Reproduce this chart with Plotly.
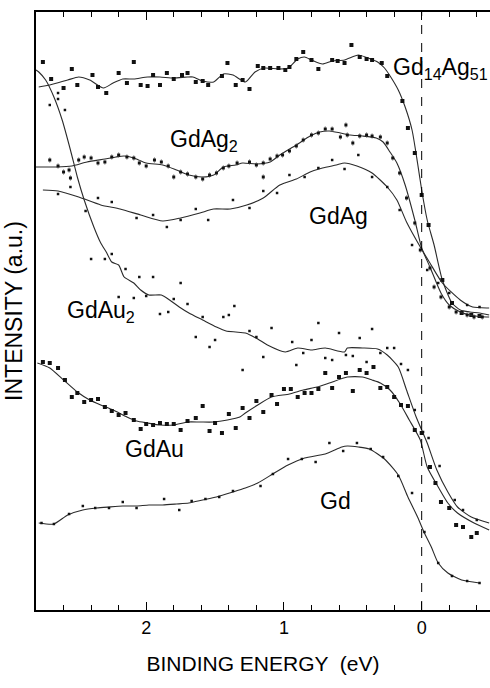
import plotly.graph_objects as go

# ---------------- data (binding energy in eV, intensity in a.u.) ----------------
gd14ag51_fit_x = [2.78, 2.70, 2.57, 2.49, 2.41, 2.31, 2.24, 2.17, 2.09, 1.99, 1.90, 1.80, 1.70, 1.66, 1.59, 1.51,
                  1.44, 1.37, 1.28, 1.21, 1.14, 1.04, 0.97, 0.90, 0.85, 0.80, 0.72, 0.65, 0.56, 0.46, 0.39, 0.32,
                  0.27, 0.22, 0.17, 0.12, 0.07, 0.03, 0.00, -0.04, -0.09, -0.15, -0.22, -0.28, -0.35, -0.42, -0.49]
gd14ag51_fit_y = [523, 525, 530, 533, 530, 522, 527, 531, 531, 533, 533, 532, 533, 533, 529, 528,
                  536, 535, 528, 538, 542, 541, 542, 551, 553, 550, 546, 549, 550, 555, 552, 548,
                  542, 532, 520, 503, 480, 447, 420, 390, 365, 330, 307, 300, 298, 297, 295]
gd14ag51_pts_x = [2.75, 2.69, 2.60, 2.54, 2.50, 2.39, 2.35, 2.29, 2.20, 2.14, 2.09, 2.04, 1.99, 1.95, 1.90, 1.85,
                  1.80, 1.74, 1.70, 1.64, 1.59, 1.55, 1.45, 1.41, 1.35, 1.30, 1.25, 1.19, 1.15, 1.10, 1.04, 0.99,
                  0.96, 0.91, 0.86, 0.80, 0.75, 0.65, 0.61, 0.56, 0.51, 0.45, 0.40, 0.36, 0.29, 0.25, 0.14, 0.10,
                  0.05, 0.00, -0.05, -0.15, -0.22, -0.29, -0.36, -0.42]
gd14ag51_pts_y = [548, 531, 522, 541, 525, 535, 523, 517, 537, 527, 548, 525, 524, 535, 525, 537,
                  531, 535, 537, 528, 529, 525, 534, 547, 525, 530, 521, 544, 542, 542, 542, 540,
                  543, 551, 558, 550, 541, 550, 549, 547, 565, 553, 551, 550, 547, 534, 509, 482,
                  457, 415, 385, 330, 307, 297, 295, 294]

gdag2_fit_x = [2.80, 2.65, 2.54, 2.43, 2.30, 2.22, 2.16, 2.09, 2.00, 1.88, 1.78, 1.69, 1.59, 1.51, 1.44, 1.35,
               1.30, 1.20, 1.10, 1.03, 0.91, 0.81, 0.74, 0.67, 0.59, 0.52, 0.43, 0.33, 0.28, 0.23, 0.18, 0.12,
               0.05, 0.00, -0.06, -0.14, -0.20, -0.28, -0.35, -0.47, -0.49]
gdag2_fit_y = [443, 443, 444, 448, 451, 453, 454, 452, 447, 445, 440, 435, 433, 435, 443, 445,
               447, 446, 448, 455, 465, 474, 478, 479, 477, 475, 474, 472, 468, 458, 447, 425,
               390, 362, 343, 317, 305, 298, 295, 293, 293]
gdag2_pts_x = [2.70, 2.64, 2.60, 2.56, 2.55, 2.49, 2.45, 2.40, 2.35, 2.30, 2.25, 2.20, 2.14, 2.09, 2.05, 2.00,
               1.94, 1.89, 1.84, 1.80, 1.75, 1.70, 1.64, 1.59, 1.54, 1.49, 1.44, 1.40, 1.34, 1.25, 1.20, 1.15,
               1.15, 1.10, 1.05, 1.01, 0.96, 0.91, 0.86, 0.80, 0.75, 0.70, 0.65, 0.59, 0.55, 0.54, 0.50, 0.45,
               0.40, 0.36, 0.30, 0.25, 0.21, 0.16, 0.11, 0.05, 0.01, -0.06, -0.09, -0.14, -0.20, -0.25, -0.33,
               -0.38, -0.44]
gdag2_pts_y = [450, 444, 438, 440, 432, 450, 453, 452, 447, 448, 453, 455, 453, 452, 447, 444,
               450, 448, 444, 433, 438, 436, 433, 431, 435, 437, 442, 444, 447, 448, 445, 447,
               433, 451, 454, 455, 459, 464, 470, 475, 477, 481, 481, 473, 485, 475, 467, 474,
               475, 474, 473, 467, 452, 437, 412, 387, 360, 342, 323, 313, 303, 298, 295,
               293, 293]

gdag_fit_x = [2.75, 2.64, 2.49, 2.33, 2.19, 2.04, 1.88, 1.75, 1.61, 1.51, 1.39, 1.27, 1.15, 1.03, 0.91, 0.81,
              0.72, 0.62, 0.56, 0.47, 0.36, 0.25, 0.18, 0.11, 0.01, -0.06, -0.15, -0.28, -0.37, -0.48, -0.49]
gdag_fit_y = [420, 419, 413, 405, 401, 395, 389, 392, 397, 401, 401, 405, 412, 425, 431, 438,
              442, 445, 447, 444, 437, 423, 410, 388, 363, 347, 327, 310, 303, 302, 302]
gdag_pts_x = [2.64, 2.55, 2.44, 2.35, 2.25, 2.07, 1.95, 1.85, 1.75, 1.64, 1.55, 1.37, 1.25, 1.15, 1.05, 0.96,
              0.85, 0.75, 0.65, 0.56, 0.46, 0.36, 0.25, 0.16, 0.07, -0.04, -0.12, -0.20, -0.33, -0.42]
gdag_pts_y = [416, 423, 399, 412, 408, 392, 395, 383, 390, 401, 390, 410, 402, 419, 417, 435,
              433, 442, 450, 441, 455, 433, 423, 400, 365, 340, 327, 317, 305, 303]

gdau2_fit_x = [2.80, 2.78, 2.73, 2.67, 2.61, 2.55, 2.50, 2.45, 2.38, 2.33, 2.29, 2.25, 2.20, 2.16, 2.09, 2.04,
               1.98, 1.89, 1.83, 1.76, 1.69, 1.59, 1.49, 1.42, 1.35, 1.28, 1.19, 1.12, 0.99, 0.90, 0.80, 0.70,
               0.56, 0.54, 0.43, 0.32, 0.25, 0.17, 0.11, 0.04, -0.04, -0.11, -0.19, -0.26, -0.36, -0.49]
gdau2_fit_y = [540, 538, 530, 513, 490, 460, 433, 410, 383, 367, 358, 348, 345, 333, 327, 320,
               315, 315, 310, 303, 297, 290, 283, 279, 278, 277, 271, 265, 258, 262, 260, 262,
               258, 262, 262, 261, 255, 243, 220, 193, 167, 140, 118, 103, 93, 87]
gdau2_pts_x = [2.70, 2.64, 2.64, 2.59, 2.40, 2.30, 2.25, 2.15, 2.05, 1.95, 2.20, 2.09, 2.00, 1.90, 1.84, 1.80,
               1.75, 1.70, 1.64, 1.59, 1.54, 1.50, 1.44, 1.40, 1.36, 1.30, 1.25, 1.20, 1.15, 1.09, 0.94, 0.91,
               0.86, 0.80, 0.75, 0.70, 0.65, 0.60, 0.55, 0.50, 0.45, 0.40, 0.36, 0.30, 0.25, 0.20, 0.15, 0.10,
               0.05, -0.01, -0.05, -0.13, -0.24, -0.30, -0.40]
gdau2_pts_y = [505, 517, 511, 500, 351, 351, 356, 341, 333, 333, 313, 312, 314, 296, 298, 311,
               327, 306, 273, 293, 263, 270, 293, 295, 304, 240, 279, 273, 253, 282, 268, 245,
               257, 270, 287, 252, 250, 277, 255, 254, 272, 248, 281, 257, 262, 262, 246, 240,
               200, 178, 172, 144, 110, 100, 90]

gdau_fit_x = [2.79, 2.70, 2.60, 2.50, 2.41, 2.33, 2.24, 2.14, 2.07, 1.99, 1.90, 1.80, 1.70, 1.61, 1.51, 1.41,
              1.32, 1.28, 1.19, 1.09, 0.96, 0.86, 0.76, 0.67, 0.54, 0.43, 0.36, 0.30, 0.23, 0.16, 0.09, 0.01,
              -0.04, -0.12, -0.19, -0.26, -0.38, -0.49]
gdau_fit_y = [247, 242, 230, 218, 210, 205, 200, 193, 189, 187, 185, 185, 188, 188, 188, 190,
              193, 197, 205, 213, 216, 220, 223, 227, 233, 233, 230, 227, 220, 207, 190, 170,
              143, 123, 107, 97, 87, 80]
gdau_pts_x = [2.75, 2.70, 2.64, 2.59, 2.54, 2.50, 2.45, 2.40, 2.35, 2.30, 2.25, 2.20, 2.15, 2.09, 2.04, 2.00,
              1.95, 1.90, 1.85, 1.80, 1.75, 1.70, 1.64, 1.59, 1.54, 1.50, 1.45, 1.40, 1.35, 1.30, 1.25, 1.20,
              1.15, 1.09, 1.05, 1.00, 0.95, 0.90, 0.85, 0.80, 0.75, 0.70, 0.65, 0.60, 0.55, 0.50, 0.45, 0.40,
              0.35, 0.30, 0.25, 0.20, 0.15, 0.10, 0.05, 0.00, -0.06, -0.10, -0.14, -0.20, -0.25, -0.30, -0.36,
              -0.40]
gdau_pts_y = [248, 247, 242, 230, 213, 217, 208, 210, 211, 203, 199, 195, 197, 190, 181, 186,
              185, 187, 186, 186, 180, 189, 192, 204, 179, 187, 177, 196, 182, 202, 192, 209,
              198, 215, 206, 221, 221, 213, 217, 217, 221, 237, 222, 233, 237, 219, 240, 237,
              243, 222, 223, 213, 205, 204, 180, 177, 143, 127, 108, 102, 85, 83, 73,
              77]

gd_fit_x = [2.78, 2.67, 2.57, 2.46, 2.36, 2.27, 2.17, 2.07, 1.98, 1.88, 1.78, 1.69, 1.59, 1.49, 1.37, 1.28,
            1.19, 1.07, 0.97, 0.85, 0.70, 0.58, 0.54, 0.46, 0.38, 0.27, 0.17, 0.10, 0.03, -0.02, -0.07, -0.12,
            -0.19, -0.29, -0.42]
gd_fit_y = [87, 86, 95, 100, 102, 103, 104, 104, 105, 105, 106, 107, 110, 113, 118, 122,
            127, 137, 145, 152, 156, 163, 164, 163, 161, 151, 135, 113, 93, 77, 63, 47,
            37, 30, 27]
gd_pts_x = [2.76, 2.67, 2.56, 2.46, 2.37, 2.27, 2.17, 2.07, 1.87, 1.76, 1.67, 1.57, 1.47, 1.37, 1.17, 1.08,
            0.97, 0.87, 0.77, 0.67, 0.57, 0.47, 0.37, 0.28, 0.17, 0.07, -0.02, -0.12, -0.22, -0.33, -0.42]
gd_pts_y = [87, 86, 96, 104, 102, 102, 108, 102, 111, 100, 109, 111, 113, 119, 124, 136,
            151, 151, 148, 167, 159, 167, 161, 153, 134, 117, 78, 47, 34, 29, 27]

x_tick_vals = [2, 1, 0]
x_tick_text = ["2", "1", "0"]

labels = ["Gd<sub>14</sub>Ag<sub>51</sub>", "GdAg<sub>2</sub>", "GdAg", "GdAu<sub>2</sub>", "GdAu", "Gd"]
label_x = [0.22, 1.84, 0.83, 2.59, 2.17, 0.75]
label_y = [542, 470, 394, 299, 161, 109]

# ---------------- figure ----------------
LINE = "#2a2a2a"
PT = "#111111"
FONT = "Liberation Sans, Arial, sans-serif"
X_RANGE = [2.80, -0.496]

fig = go.Figure()

def add_series(fx, fy, px, py, msize, err=False):
    fig.add_trace(go.Scatter(x=fx, y=fy, mode="lines", line=dict(color=LINE, width=1.1, shape="spline", smoothing=0.6),
                             hoverinfo="skip", showlegend=False))
    kw = {}
    if err:
        kw["error_y"] = dict(type="constant", value=3, thickness=0.6, width=0, color="#777")
    fig.add_trace(go.Scatter(x=px, y=py, mode="markers",
                             marker=dict(symbol="square", size=msize, color=PT, line=dict(width=0)),
                             showlegend=False, **kw))

add_series(gd14ag51_fit_x, gd14ag51_fit_y, gd14ag51_pts_x, gd14ag51_pts_y, 4)
add_series(gdag2_fit_x, gdag2_fit_y, gdag2_pts_x, gdag2_pts_y, 3, err=True)
add_series(gdag_fit_x, gdag_fit_y, gdag_pts_x, gdag_pts_y, 2.5)
add_series(gdau2_fit_x, gdau2_fit_y, gdau2_pts_x, gdau2_pts_y, 2.5)
add_series(gdau_fit_x, gdau_fit_y, gdau_pts_x, gdau_pts_y, 4)
add_series(gd_fit_x, gd_fit_y, gd_pts_x, gd_pts_y, 2.5)

for t, lx, ly in zip(labels, label_x, label_y):
    fig.add_annotation(x=lx, y=ly, text=t, showarrow=False, xanchor="left", yanchor="middle",
                       font=dict(family=FONT, size=23, color="black"))

fig.add_shape(type="line", xref="x", yref="paper", x0=0, x1=0, y0=0, y1=1,
              line=dict(color="black", width=1, dash="dash"))

fig.update_layout(
    width=490, height=688,
    margin=dict(l=36, r=0, t=12, b=78),
    paper_bgcolor="white", plot_bgcolor="white",
    font=dict(family=FONT, color="black"),
    xaxis=dict(range=X_RANGE, showgrid=False, zeroline=False,
               showline=True, linewidth=2, linecolor="black", mirror="allticks",
               ticks="inside", ticklen=8, tickwidth=1.4, tickcolor="black",
               tickvals=x_tick_vals, ticktext=x_tick_text, tickfont=dict(size=18),
               minor=dict(ticks="inside", ticklen=5, tickwidth=1.4, tickcolor="black",
                          dtick=0.2, tick0=0, showgrid=False),
               title=dict(text="BINDING ENERGY  (eV)", font=dict(size=21), standoff=20)),
    yaxis=dict(range=[0, 598], showgrid=False, zeroline=False, showline=True, linewidth=2,
               linecolor="black", mirror=False, ticks="", showticklabels=False,
               title=dict(text="INTENSITY (a.u.)", font=dict(size=23), standoff=5)),
)

fig.write_html("out.html")
